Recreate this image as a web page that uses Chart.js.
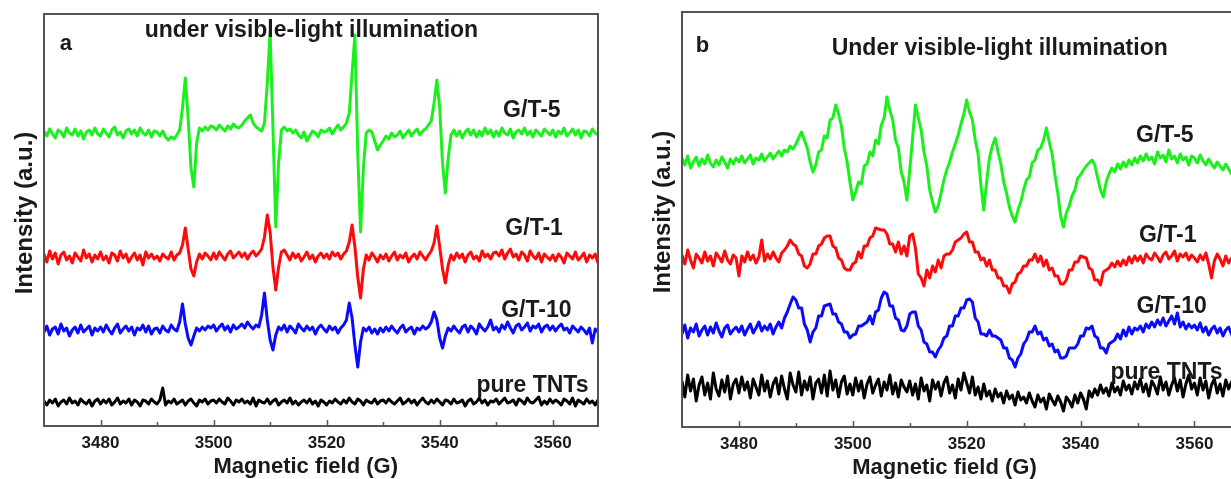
<!DOCTYPE html>
<html>
<head>
<meta charset="utf-8">
<title>EPR spectra under visible-light illumination</title>
<script src="https://cdn.jsdelivr.net/npm/chart.js@4.4.1/dist/chart.umd.min.js"></script>
<style>
  html, body { margin: 0; padding: 0; background: #fff; }
  body { width: 1231px; height: 479px; overflow: hidden; position: relative; }
  .panel { position: absolute; top: 0; }
  .panel canvas { display: block; }
  #panelA { left: 0; }
  #panelB { left: 620px; }
</style>
</head>
<body>
<div class="panel" id="panelA"><canvas id="chartA" width="620" height="479"></canvas></div>
<div class="panel" id="panelB"><canvas id="chartB" width="640" height="479"></canvas></div>
<script>
// sweep: 3470 G upwards in 0.5 G steps, 200 points per spectrum
const FIELD_START = 3470;
const FIELD_STEP = 0.5;

const seriesNames = ['G/T-5', 'G/T-1', 'G/T-10', 'pure TNTs'];
const seriesColors = ['#1cf01c', '#ff0a0a', '#0a0aff', '#000000'];

// panel a, signal (a.u.), one row = 10 G
const greenA = [
  2, -3, 4, -1, -5, 3, 1, -4, 5, 0, -2, 4, -3, 2, -6, 1, 3, -2, 5, -1,
  -3, 4, 0, -4, 3, 6, -2, 1, -5, 2, 4, -1, 3, -3, 5, 0, -2, 3, -4, 2,
  1, -3, 2, -4, -7, -4, -6, -2, 3, 25, 55, 15, -35, -54, -10, 5, 2, 6, 3, 7,
  6, 3, 8, 5, 2, 7, 4, 9, 6, 5, 8, 12, 15, 18, 10, 6, 4, 2, 10, 50,
  101, 5, -94, -30, 3, 6, 2, 4, 0, 3, -2, -5, 1, -8, -3, 2, 0, -4, 3, 1,
  2, 5, -1, 4, 8, 3, 6, 10, 20, 60, 98, -20, -99, -35, 0, 3, 1, -8, -17, -12,
  -8, -3, -6, 0, -4, -2, 2, -5, -1, 3, -3, 1, 4, -2, 2, 4, 8, 12, 30, 53,
  25, -30, -60, -25, -2, 3, -3, 2, -5, 1, 4, -2, 3, -4, 2, -3, 5, -1, 3, -4,
  2, -3, 5, 0, -2, 4, -5, 1, 3, -1, 5, -2, 2, -4, 3, 0, -3, 4, 1, -2,
  3, -4, 2, -1, 5, -3, 0, 4, -2, 3, -5, 2, 1, -3, 4, 0, -2, 3, -1, 2
];
const redA = [
  3, -5, 6, -2, 4, -7, 2, 5, -3, 1, -6, 4, 0, -4, 7, -1, 3, -5, 2, -2,
  5, -3, 1, -6, 4, 2, -4, 6, -1, 3, -5, 0, 4, -3, 2, -8, 5, -1, 3, -2,
  1, -4, 3, 0, -2, 5, -3, 2, 4, 12, 29, 8, -12, -19, -5, 3, -2, 4, 1, -3,
  4, -2, 5, 1, -3, 3, 6, -1, 2, 5, 0, 4, -2, 3, 6, 1, 4, 8, 20, 42,
  25, -10, -33, -10, 5, 7, 2, -3, 4, -1, 3, -4, 0, 5, -2, 2, -5, 1, 4, -1,
  3, -2, 5, 1, 4, -2, 3, 6, 15, 32, 10, -20, -41, -12, 2, -3, 4, 0, -5, 2,
  -2, 3, -4, 1, 5, -3, 2, -1, 4, -5, 0, 3, -2, 5, 1, -3, 2, 6, 14, 31,
  10, -12, -26, -8, 2, -3, 4, -1, 3, -5, 2, 5, -2, 1, -4, 6, 0, 3, -2, 4,
  5, 1, 7, -2, 4, 8, 0, 3, -3, 5, 2, -4, 6, 1, -2, 4, -5, 3, 0, -3,
  2, -4, 3, 0, -6, 4, 1, -2, 5, -3, 0, 4, -5, 2, -1, 3, -6, 2, 0, 3
];
const blueA = [
  -2, 4, -5, 1, 3, -4, 6, -1, 2, -6, 0, 3, -3, 5, -2, 1, 4, -5, 2, -1,
  3, -2, 5, 0, -4, 2, 6, -3, 1, 4, -1, 3, -5, 2, 0, 5, -2, 4, -4, 1,
  2, -3, 4, 0, -2, 5, 1, -1, 8, 26, 6, -8, -15, -6, 2, -1, 3, 0, 4, 2,
  5, -1, 3, 6, 0, 4, -2, 5, 1, 3, 6, 2, 8, 4, 1, 5, 3, 15, 37, 10,
  -10, -20, -5, 3, 0, 5, -2, 4, 1, -3, 6, 2, -1, 4, 0, 3, -4, 2, 5, 1,
  -2, 4, 0, 3, -3, 2, 5, 10, 27, 12, -15, -37, -12, 2, -1, 3, -3, 1, -4, 2,
  -2, 3, -1, 4, 0, -3, 2, 5, -2, 1, 3, -4, 2, 0, 4, 1, 3, 8, 18, 10,
  -8, -18, -6, 2, -1, 4, 0, -3, 3, 5, -2, 4, 1, -4, 6, 2, -1, 3, 10, 0,
  3, -2, 5, 1, 8, 2, -3, 4, 6, 0, 3, 7, -1, 4, 2, 6, -2, 3, 5, 0,
  4, -1, 3, 6, 0, 2, -3, 4, 1, -2, 3, 0, -4, 2, -13, 1, -2, 3, 0, 2
];
const blackA = [
  1, -3, 2, -1, 3, -4, 0, 2, -2, 4, -1, 1, -3, 3, 0, -2, 2, -4, 1, 3,
  -2, 2, -1, 3, -3, 0, 4, -2, 1, -1, 3, -3, 2, 0, -4, 2, 1, -2, 3, 0,
  -2, 2, 14, -3, 1, -1, 3, -2, 0, 2, -3, 1, 3, -1, -4, 2, 0, 3, -2, 1,
  2, -1, 3, 0, -2, 4, 1, -3, 2, 0, 3, -1, 1, -2, 4, -4, 2, 0, -1, 3,
  -2, 1, 3, -3, 0, 2, -1, 4, -2, 1, -3, 0, 2, -1, 3, -2, 1, -4, 2, 0,
  -3, 1, -1, 3, 0, -2, 2, -1, 4, 0, -2, 3, 1, -3, 2, 0, -1, 3, -2, 1,
  2, -1, 3, 0, -2, 1, 4, -2, 0, 3, -1, 2, -3, 1, 4, 0, -2, 2, -1, 3,
  0, -3, 2, 1, -2, 3, -1, 0, 2, -4, 1, 3, -2, 0, 4, -1, 2, -3, 1, 0,
  3, -2, 1, 4, -1, 0, 2, -3, 3, 1, -2, 4, 0, -1, 2, 5, -3, 1, -2, 3,
  -1, 2, 0, -3, 3, 1, -2, 4, -4, 2, 0, -2, 3, -1, 1, -3, 2, 0, -1, 2
];
// vertical stacking of the spectra in panel a (a.u.)
const offsetsA = [293, 169, 96, 24];

// panel b
const greenB = [
  2, -5, 4, -8, -2, 3, -6, 1, -4, 5, -3, -7, 0, -5, 3, -2, -8, 1, -4, 2,
  -2, 4, -3, 1, 5, -4, 2, 0, 6, -1, 3, 7, 1, 5, 9, 4, 10, 8, 14, 11,
  16, 22, 28, 20, 12, -2, -12, -5, 8, 10, 24, 22, 40, 42, 55, 46, 34, 12, -2, -22,
  -40, -32, -22, -24, -6, -4, 8, 4, 20, 16, 35, 42, 63, 50, 40, 20, 12, -12, -22, -40,
  -10, 22, 55, 42, 30, 8, -6, -30, -42, -52, -46, -33, -20, -10, -2, 8, 16, 25, 36, 46,
  60, 48, 40, 20, 6, -25, -50, -22, 2, 14, 22, 8, -4, -22, -33, -47, -56, -62, -50, -42,
  -30, -20, -17, -3, 0, 10, 12, 20, 32, 18, 6, -15, -33, -56, -67, -53, -46, -36, -30, -18,
  -15, -10, -6, -3, 0, -5, -18, -30, -37, -22, -14, -8, -12, -4, -9, -2, -7, 0, -5, 2,
  -3, 4, -1, 6, 0, 3, -4, 8, 2, 5, -2, 10, 1, 4, -3, 6, 0, 3, -5, 4,
  2, -3, 5, -1, -5, 1, -4, -8, -2, -6, -10, -4, -9, -14, -8, -12, -16, -10, -14, -12
];
const redB = [
  3, -6, 8, -2, -10, 4, 0, -5, 6, -3, 2, -8, 5, 1, -4, 7, -2, -6, 3, 0,
  -18, 2, -4, 6, -2, 3, -5, 1, 18, -3, 4, -1, 6, 0, -4, 5, 8, 12, 18, 14,
  12, 4, 2, -8, -10, -6, 4, 4, 12, 14, 20, 22, 22, 12, 10, 0, -2, -10, -12, -12,
  -6, -4, 6, 0, 12, 12, 20, 22, 30, 29, 28, 28, 24, 14, 14, 6, 16, 4, 12, 2,
  22, 24, 10, -16, -20, -28, -12, -20, -8, -14, -2, -10, 2, 4, 4, 8, 16, 18, 20, 24,
  26, 16, 16, 6, 6, -2, 0, -8, -2, -12, -12, -20, -20, -28, -28, -35, -26, -24, -16, -14,
  -8, -8, -2, -2, 4, -4, 2, -8, -2, -12, -10, -18, -18, -26, -26, -22, -12, -12, -4, -4,
  2, 1, 0, -10, -12, -22, -22, -27, -14, -12, -10, -5, -9, -3, -8, -2, -7, 1, -5, 2,
  -3, 2, -5, 4, 0, -2, 5, 1, -4, 3, 6, -1, 2, 7, -3, 4, 1, 5, -2, 3,
  0, -4, 3, -2, 5, -6, -20, -3, 4, -1, -8, 2, -5, 0, -4, 3, -4, 1, -2, -6
];
const blueB = [
  -4, 5, -8, 2, -2, 6, -6, 0, 4, -5, 3, -3, 7, -1, -7, 2, 5, -4, 0, 3,
  -2, 4, -5, 1, 6, -3, 2, 8, -1, 4, 0, 6, -4, 3, 8, 2, 12, 18, 26, 33,
  30, 22, 22, 6, 0, -12, -2, 2, 14, 14, 24, 25, 26, 16, 16, 8, 6, -2, -2, -8,
  -5, -4, 4, 4, 6, 8, 14, 6, 18, 20, 32, 38, 36, 24, 24, 12, 10, 0, -1, 4,
  16, 18, 18, 4, 0, -12, -14, -22, -22, -27, -20, -16, -8, -6, 4, 4, 14, 14, 22, 22,
  30, 31, 28, 12, 8, -4, -4, -6, 0, -6, -6, -8, -10, -18, -18, -28, -30, -37, -28, -24,
  -14, -10, -2, -2, 4, -4, -2, -10, -8, -16, -14, -22, -20, -28, -28, -26, -18, -18, -18, -14,
  -6, -6, 2, 1, 4, -6, -8, -18, -18, -23, -14, -12, -10, -4, -9, 0, -6, 3, -4, 2,
  0, 4, -2, 6, 2, 8, 3, 10, 5, 12, 4, 9, 14, 6, 17, 3, 8, 1, 6, 2,
  5, 0, 7, -2, 3, -5, 1, 4, -3, 2, -6, 0, 3, -4, -12, 1, -3, 2, -1, -4
];
const blackB = [
  6, -10, 12, -4, 8, -14, 2, 10, -8, 4, -12, 14, -2, -9, 7, -5, 11, -12, 3, 8,
  -6, 10, -3, 5, -11, 8, 0, -8, 12, -4, 6, -10, 3, 9, -7, 11, -2, -12, 14, 2,
  -5, 15, -8, 6, -3, 10, -12, 4, 8, -6, 12, -9, 16, -3, 7, -10, 5, 11, -7, 3,
  -8, 9, -4, 6, -11, 3, 10, -6, 2, 8, -9, 5, -3, 12, -7, 4, -10, 7, 0, -5,
  6, -8, 3, -12, 9, -4, 2, -14, 7, -2, 5, -9, 4, 10, -6, 2, -11, 8, -3, 14,
  4, -6, 10, -8, 0, -12, 3, -9, -4, -14, -2, -10, -6, -16, -4, -12, -8, -18, -5, -13,
  -10, -16, -6, -14, -20, -8, -15, -11, -22, -7, -13, -18, -9, -15, -24, -10, -14, -20, -8, -16,
  -6, -12, -22, -4, -10, -2, -8, 2, -6, -1, -9, 4, -5, 0, -8, 6, -3, 2, -7, 5,
  -2, 8, -5, 3, -9, 6, 1, -7, 10, -3, 5, -8, 2, 9, -4, 7, -10, 3, 12, -2,
  4, -8, 9, -3, 6, -11, 2, 8, -6, 3, -9, 7, -2, 5, -7, 1, -4, 6, -3, 2
];
const offsetsB = [267, 169, 97, 40];

const FONT = '"Liberation Sans", Arial, Helvetica, sans-serif';
const INK = '#1a1a1a';

function buildDatasets(spectra, offsets) {
  return spectra.map(function(values, k) {
    return {
      label: seriesNames[k],
      data: values.map(function(v, i) {
        return { x: FIELD_START + i * FIELD_STEP, y: v + offsets[k] };
      }),
      borderColor: seriesColors[k],
      borderWidth: 3,
      borderJoinStyle: 'round',
      pointRadius: 0,
      tension: 0
    };
  });
}

// frame, inward ticks and all the lettering
const decorations = {
  id: 'decorations',
  afterDraw(chart, args, opts) {
    const ctx = chart.ctx;
    const area = chart.chartArea;
    const x = chart.scales.x;
    const y = chart.scales.y;
    ctx.save();

    ctx.strokeStyle = '#555';
    ctx.lineWidth = 1.5;
    x.ticks.forEach(function(t) {
      [[t.value, 6], [t.value + 10, 4]].forEach(function(mark) {
        if (mark[0] <= x.min || mark[0] >= x.max) return;
        const px = Math.round(x.getPixelForValue(mark[0])) + 0.5;
        ctx.beginPath();
        ctx.moveTo(px, area.bottom);
        ctx.lineTo(px, area.bottom - mark[1]);
        ctx.stroke();
      });
    });
    ctx.lineWidth = 2;
    ctx.strokeRect(area.left, area.top, area.right - area.left, area.bottom - area.top);

    ctx.fillStyle = INK;
    ctx.textBaseline = 'alphabetic';
    opts.notes.forEach(function(n) {
      ctx.font = 'bold ' + n.size + 'px ' + FONT;
      ctx.textAlign = n.align || 'center';
      ctx.fillText(n.text, x.getPixelForValue(n.field), y.getPixelForValue(n.value));
    });

    ctx.font = 'bold 22px ' + FONT;
    ctx.textAlign = 'center';
    ctx.fillText(opts.xTitle.text, x.getPixelForValue(opts.xTitle.field), area.bottom + opts.xTitle.drop);

    ctx.translate(area.left - opts.yTitle.shift, y.getPixelForValue(opts.yTitle.value));
    ctx.rotate(-Math.PI / 2);
    ctx.font = 'bold 24px ' + FONT;
    ctx.textBaseline = 'middle';
    ctx.fillText(opts.yTitle.text, 0, 0);
    ctx.restore();
  }
};

function makeChart(canvasId, spectra, offsets, frame, yMax, decor) {
  return new Chart(document.getElementById(canvasId), {
    type: 'line',
    data: { datasets: buildDatasets(spectra, offsets) },
    plugins: [decorations],
    options: {
      responsive: false,
      animation: false,
      events: [],
      layout: { padding: frame },
      plugins: {
        legend: { display: false },
        tooltip: { enabled: false },
        decorations: decor
      },
      scales: {
        x: {
          type: 'linear',
          min: 3470,
          max: 3568,
          grid: { display: false, drawTicks: false },
          border: { display: false },
          ticks: {
            stepSize: 20,
            includeBounds: false,
            padding: 7,
            maxRotation: 0,
            color: INK,
            font: { family: FONT, size: 17, weight: 'bold' },
            callback: function(value) { return String(value); }
          },
          afterFit: function(scale) { scale.height = frame.axis; }
        },
        y: { display: false, min: 0, max: yMax }
      }
    }
  });
}

makeChart('chartA', [greenA, redA, blueA, blackA], offsetsA,
  { left: 44, right: 22, top: 14, bottom: 0, axis: 53 }, 412, {
    notes: [
      { text: 'a', field: 3472.8, value: 376, size: 22, align: 'left' },
      { text: 'under visible-light illumination', field: 3517.3, value: 389, size: 23 },
      { text: seriesNames[0], field: 3556.3, value: 309, size: 23 },
      { text: seriesNames[1], field: 3556.7, value: 191, size: 23 },
      { text: seriesNames[2], field: 3557.1, value: 109, size: 23 },
      { text: seriesNames[3], field: 3556.4, value: 34, size: 23 }
    ],
    xTitle: { text: 'Magnetic field (G)', field: 3516.3, drop: 47 },
    yTitle: { text: 'Intensity (a.u.)', value: 213, shift: 19 }
  });

makeChart('chartB', [greenB, redB, blueB, blackB], offsetsB,
  { left: 62, right: 20, top: 12, bottom: 0, axis: 52 }, 415, {
    notes: [
      { text: 'b', field: 3472.4, value: 375, size: 22, align: 'left' },
      { text: 'Under visible-light illumination', field: 3525.8, value: 372, size: 23 },
      { text: seriesNames[0], field: 3554.8, value: 285, size: 23 },
      { text: seriesNames[1], field: 3555.3, value: 185, size: 23 },
      { text: seriesNames[2], field: 3556.0, value: 114, size: 23 },
      { text: seriesNames[3], field: 3555.1, value: 48, size: 23 }
    ],
    xTitle: { text: 'Magnetic field (G)', field: 3516.1, drop: 46.5 },
    yTitle: { text: 'Intensity (a.u.)', value: 215, shift: 19 }
  });
</script>
</body>
</html>
